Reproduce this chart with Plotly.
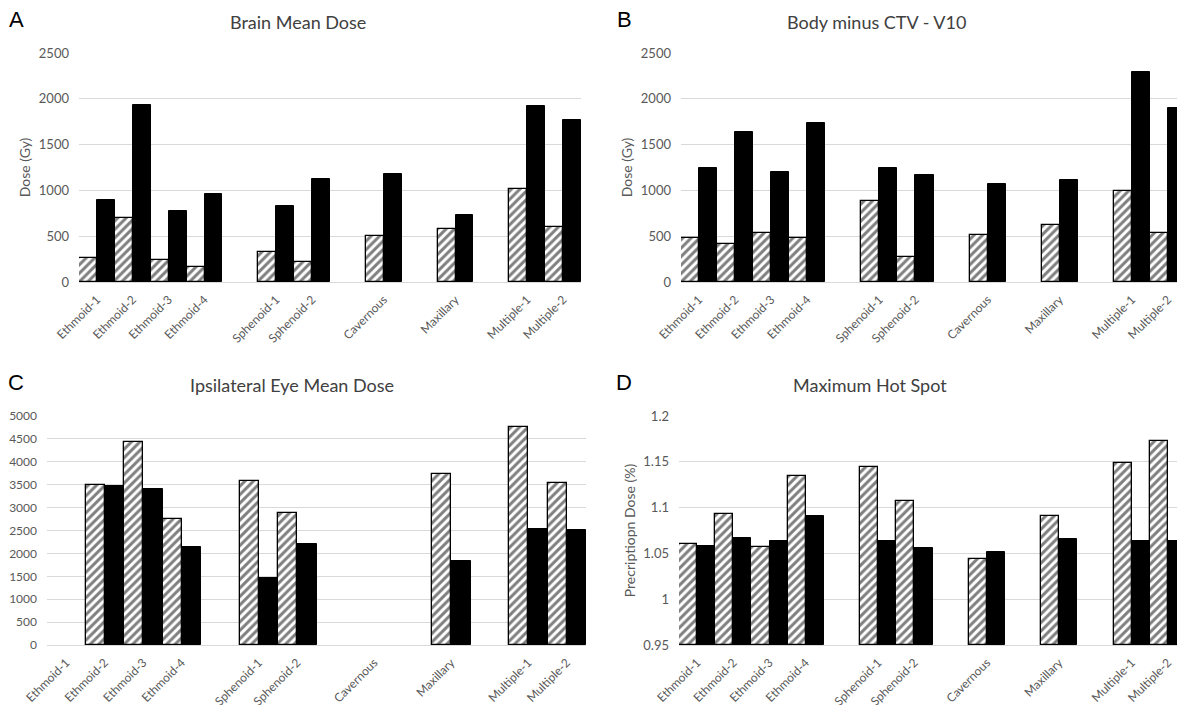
import plotly.graph_objects as go

# Category slots (blank slots are the visual gaps between site groups)
slots = ["Ethmoid-1", "Ethmoid-2", "Ethmoid-3", "Ethmoid-4", " ",
         "Sphenoid-1", "Sphenoid-2", "  ", "Cavernous", "   ",
         "Maxillary", "    ", "Multiple-1", "Multiple-2"]
sites = ["Ethmoid-1", "Ethmoid-2", "Ethmoid-3", "Ethmoid-4",
         "Sphenoid-1", "Sphenoid-2", "Cavernous", "Maxillary",
         "Multiple-1", "Multiple-2"]

# A: Brain Mean Dose
brain_hatched = [265, 695, 240, 165, 330, 215, 500, 580, 1010, 600]
brain_solid = [900, 1935, 780, 965, 835, 1125, 1175, 730, 1925, 1765]
# B: Body minus CTV - V10
body_hatched = [475, 410, 530, 475, 880, 275, 515, 620, 995, 530]
body_solid = [1250, 1635, 1200, 1735, 1240, 1165, 1070, 1110, 2290, 1895]
# C: Ipsilateral Eye Mean Dose
eye_hatched = [None, 3490, 4425, 2745, 3585, 2875, None, 3730, 4760, 3530]
eye_solid = [None, 3480, 3415, 2150, 1460, 2205, None, 1835, 2540, 2505]
# D: Maximum Hot Spot
hot_hatched = [1.060, 1.093, 1.057, 1.135, 1.144, 1.107, 1.044, 1.091, 1.149, 1.173]
hot_solid = [1.058, 1.067, 1.064, 1.091, 1.064, 1.056, 1.051, 1.066, 1.064, 1.064]

# layout in screen pixels of the target picture
panels = [
    dict(letter="A", title="Brain Mean Dose", ytitle="Dose (Gy)",
         hatched=brain_hatched, solid=brain_solid, yrange=[0, 2500], dtick=500,
         xdom=[79, 581], ydom=[53, 282], base=0, tcx=298, tfs=13),
    dict(letter="B", title="Body minus CTV - V10", ytitle="Dose (Gy)",
         hatched=body_hatched, solid=body_solid, yrange=[0, 2500], dtick=500,
         xdom=[681, 1186], ydom=[53, 282], base=0, tcx=876, tfs=13),
    dict(letter="C", title="Ipsilateral Eye Mean Dose", ytitle=None,
         hatched=eye_hatched, solid=eye_solid, yrange=[0, 5000], dtick=500,
         xdom=[47, 586], ydom=[416, 645], base=0, tcx=292, tfs=12),
    dict(letter="D", title="Maximum Hot Spot", ytitle="Precriptiopn Dose (%)",
         hatched=hot_hatched, solid=hot_solid, yrange=[0.95, 1.2], dtick=0.05,
         xdom=[679, 1186], ydom=[416, 645], base=0.95, tcx=870, tfs=13),
]

W, H = 1185, 705
OFF = 8  # page body margin offset
FONT = "Lato, 'Open Sans', sans-serif"
GREY = "#595959"
GRID = "#d9d9d9"


def px(v):
    return (v - OFF) / W


def py(v):
    return 1 - (v - OFF) / H


fig = go.Figure()
layout = dict(width=W, height=H, margin=dict(l=0, r=0, t=0, b=0, autoexpand=False),
              paper_bgcolor="white", plot_bgcolor="white",
              showlegend=False, bargap=0, bargroupgap=0, barmode="group",
              font=dict(family=FONT, color=GREY))
annotations = []

for i, p in enumerate(panels):
    n = "" if i == 0 else str(i + 1)
    xa, ya = "x" + n, "y" + n
    fig.add_trace(go.Bar(
        x=sites, y=[None if v is None else v - p["base"] for v in p["hatched"]],
        base=p["base"], xaxis=xa, yaxis=ya, name="Series 1",
        marker=dict(color="white", line=dict(color="black", width=1.3),
                    pattern=dict(shape="/", fgcolor="black", bgcolor="white",
                                 size=6, solidity=0.5)),
        offsetgroup="1"))
    fig.add_trace(go.Bar(
        x=sites, y=[None if v is None else v - p["base"] for v in p["solid"]],
        base=p["base"], xaxis=xa, yaxis=ya, name="Series 2",
        marker=dict(color="black", line=dict(color="black", width=1)),
        offsetgroup="2"))

    x0, x1 = px(p["xdom"][0]), min(px(p["xdom"][1]), 1.0)
    y0, y1 = py(p["ydom"][1]), py(p["ydom"][0])
    layout["xaxis" + n] = dict(
        domain=[x0, x1], anchor=ya, type="category", automargin=False,
        categoryorder="array", categoryarray=slots, range=[-0.5, 13.5],
        tickangle=-45, tickfont=dict(size=12, color=GREY, family=FONT),
        ticklabelstandoff=5,
        showgrid=False, showline=True, linecolor=GRID, linewidth=1,
        ticks="", fixedrange=True)
    ydict = dict(
        domain=[y0, y1], anchor=xa, range=p["yrange"], dtick=p["dtick"],
        tick0=p["yrange"][0], showgrid=True, gridcolor=GRID, gridwidth=1,
        zeroline=False, showline=False, ticks="", automargin=False,
        ticklabelstandoff=9,
        tickfont=dict(size=p["tfs"], color=GREY, family=FONT), fixedrange=True)
    if p["ytitle"]:
        ydict["title"] = dict(text=p["ytitle"], font=dict(size=14, color=GREY, family=FONT),
                              standoff=4)
    layout["yaxis" + n] = ydict

    # panel title
    annotations.append(dict(
        text=p["title"], x=px(p["tcx"]), y=py(p["ydom"][0] - 31),
        xref="paper", yref="paper", showarrow=False, xanchor="center", yanchor="middle",
        font=dict(size=18, color="#404040", family=FONT)))
    # panel letter
    lx = 16 if i % 2 == 0 else 624
    annotations.append(dict(
        text=p["letter"], x=px(lx), y=py(p["ydom"][0] - 34),
        xref="paper", yref="paper", showarrow=False, xanchor="center", yanchor="middle",
        font=dict(size=22, color="black", family="'Liberation Sans', Arial, sans-serif")))

layout["annotations"] = annotations
fig.update_layout(**layout)
fig.write_html("out.html")
